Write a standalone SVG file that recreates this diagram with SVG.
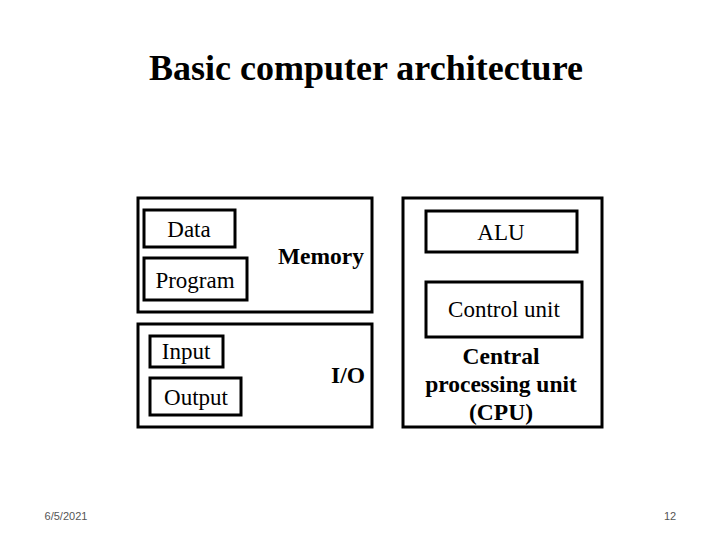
<svg xmlns="http://www.w3.org/2000/svg" width="720" height="540" viewBox="0 0 720 540">
<style>
rect{fill:#fff;stroke:#000;stroke-width:3}
text{font-family:"Liberation Serif",serif;fill:#000;text-anchor:middle}
.n{font-size:23px}
.b{font-size:23.5px;font-weight:bold}
.f{font-family:"Liberation Sans",sans-serif;font-size:11px;fill:#555}
</style>
<rect x="0" y="0" width="720" height="540" style="stroke:none"/>
<text x="366" y="80" style="font-size:36px;font-weight:bold">Basic computer architecture</text>
<g id="memory"><rect x="138" y="198" width="234" height="114"/><text class="b" x="321" y="264">Memory</text></g>
<g id="data"><rect x="144" y="210" width="91" height="37"/><text class="n" x="189" y="237">Data</text></g>
<g id="program"><rect x="144" y="258" width="103" height="42"/><text class="n" x="195" y="288">Program</text></g>
<g id="io"><rect x="138" y="324" width="234" height="103"/><text class="b" x="348" y="383">I/O</text></g>
<g id="input"><rect x="150" y="336" width="73" height="31"/><text class="n" x="186" y="359">Input</text></g>
<g id="output"><rect x="150" y="378" width="91" height="37"/><text class="n" x="196" y="405">Output</text></g>
<g id="cpu"><rect x="403" y="198" width="199" height="229"/><text class="b" x="501" y="364">Central</text><text class="b" x="501" y="392">processing unit</text><text class="b" x="501" y="420">(CPU)</text></g>
<g id="alu"><rect x="426" y="211" width="151" height="41"/><text class="n" x="501" y="240">ALU</text></g>
<g id="control"><rect x="426" y="282" width="156" height="55"/><text class="n" x="504" y="317">Control unit</text></g>
<g id="connectors"/>
<text class="f" x="66" y="520">6/5/2021</text>
<text class="f" x="670" y="520">12</text>
</svg>
